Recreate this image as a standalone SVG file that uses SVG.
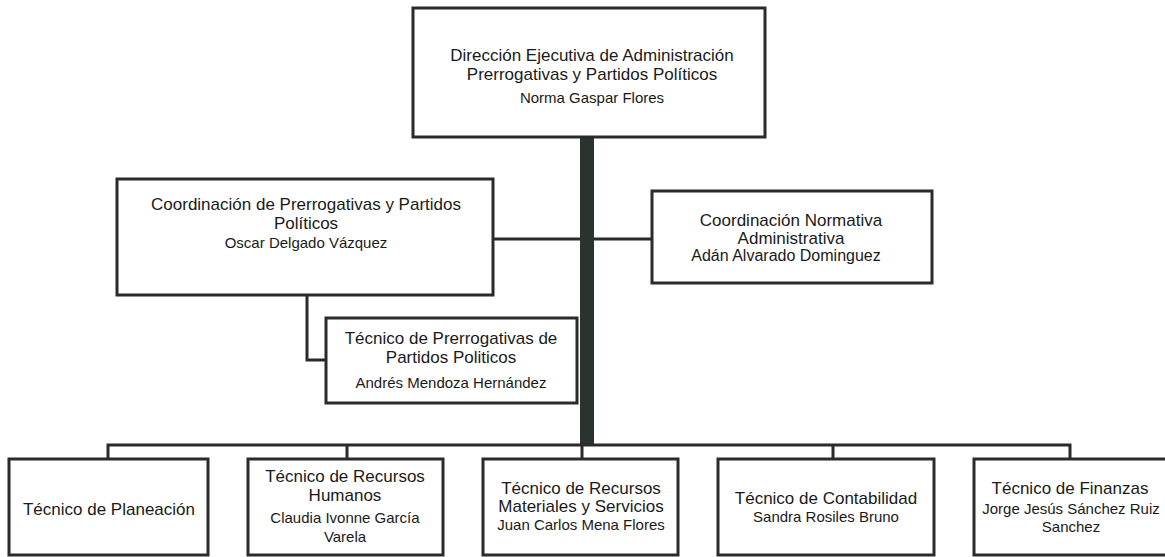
<svg xmlns="http://www.w3.org/2000/svg" width="1165" height="557" viewBox="0 0 1165 557">
<style>
.box{fill:#fff;stroke:#2b2b2b;stroke-width:3}
.ln{fill:none;stroke:#2b2b2b;stroke-width:3}
.t{font-family:"Liberation Sans",Arial,sans-serif;font-size:17px;fill:#1a1a1a;text-anchor:middle}
.n{font-family:"Liberation Sans",Arial,sans-serif;font-size:15px;fill:#1a1a1a;text-anchor:middle}
</style>
<rect width="1165" height="557" fill="#fff"/>
<g id="connectors">
<rect x="580" y="137" width="14" height="307" fill="#2b332f"/>
<path class="ln" d="M493 239H580M594 239H652"/>
<path class="ln" d="M307 295V360H326"/>
<path class="ln" d="M108 459V445H1070V459M347 445V459M582 445V459M833 445V459"/>
</g>
<g id="n-direccion">
<rect class="box" x="413" y="8" width="352" height="129"/>
<text class="t" x="592" y="61">Dirección Ejecutiva de Administración</text>
<text class="t" x="592" y="80">Prerrogativas y Partidos Políticos</text>
<text class="n" x="592" y="103">Norma Gaspar Flores</text>
</g>
<g id="n-coord-prerrog">
<rect class="box" x="117" y="179" width="376" height="116"/>
<text class="t" x="306" y="210">Coordinación de Prerrogativas y Partidos</text>
<text class="t" x="306" y="229">Políticos</text>
<text class="n" x="306" y="248">Oscar Delgado Vázquez</text>
</g>
<g id="n-coord-normativa">
<rect class="box" x="652" y="191" width="280" height="92"/>
<text class="t" x="791" y="226">Coordinación Normativa</text>
<text class="t" x="791" y="244">Administrativa</text>
<text class="n" x="786" y="261" style="font-size:16px">Adán Alvarado Dominguez</text>
</g>
<g id="n-tec-prerrog">
<rect class="box" x="326" y="318" width="251" height="85"/>
<text class="t" x="451" y="344">Técnico de Prerrogativas de</text>
<text class="t" x="451" y="363">Partidos Politicos</text>
<text class="n" x="451" y="388">Andrés Mendoza Hernández</text>
</g>
<g id="n-planeacion">
<rect class="box" x="9" y="459" width="199" height="96"/>
<text class="t" x="109" y="515">Técnico de Planeación</text>
</g>
<g id="n-rh">
<rect class="box" x="248" y="459" width="195" height="96"/>
<text class="t" x="345" y="482">Técnico de Recursos</text>
<text class="t" x="345" y="501">Humanos</text>
<text class="n" x="345" y="523">Claudia Ivonne García</text>
<text class="n" x="345" y="542">Varela</text>
</g>
<g id="n-rm">
<rect class="box" x="483" y="459" width="195" height="96"/>
<text class="t" x="581" y="494">Técnico de Recursos</text>
<text class="t" x="581" y="512">Materiales y Servicios</text>
<text class="n" x="581" y="530">Juan Carlos Mena Flores</text>
</g>
<g id="n-contabilidad">
<rect class="box" x="718" y="459" width="216" height="96"/>
<text class="t" x="826" y="504">Técnico de Contabilidad</text>
<text class="n" x="826" y="522">Sandra Rosiles Bruno</text>
</g>
<g id="n-finanzas">
<rect class="box" x="974" y="459" width="194" height="96"/>
<text class="t" x="1070" y="494">Técnico de Finanzas</text>
<text class="n" x="1071" y="514">Jorge Jesús Sánchez Ruiz</text>
<text class="n" x="1071" y="532">Sanchez</text>
</g>
</svg>
